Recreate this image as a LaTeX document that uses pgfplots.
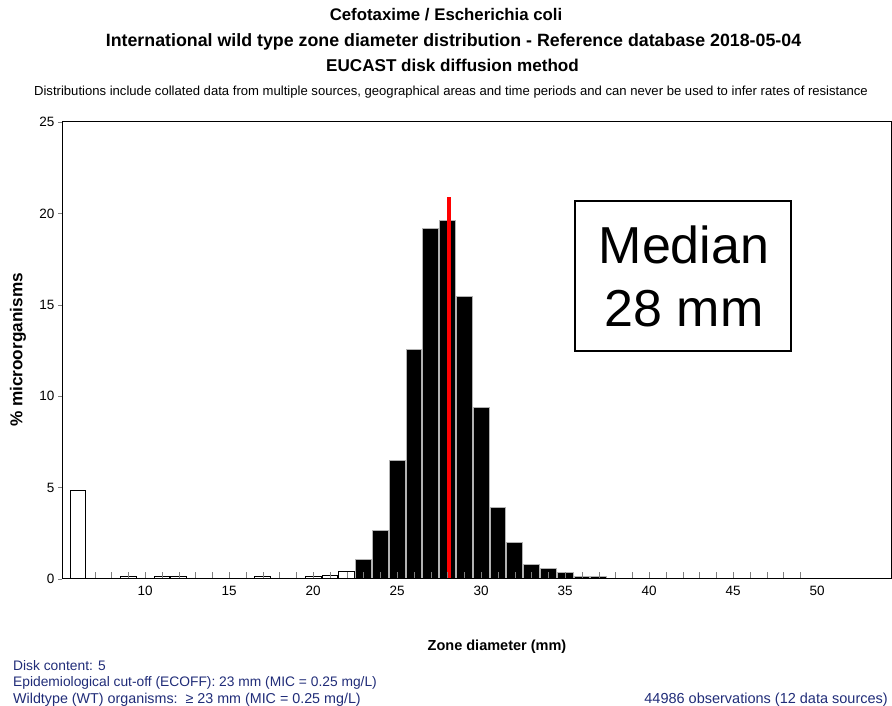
\documentclass[border=0pt]{standalone}
\usepackage{fontspec}
\setmainfont{Liberation Sans}
\usepackage{pgfplots}
\pgfplotsset{compat=1.18}
\definecolor{navy}{RGB}{32,44,120}
\begin{document}
\begin{tikzpicture}[x=1bp,y=1bp]
\path[use as bounding box] (0,0) rectangle (892,706);
\coordinate (SW) at (62,127);
\begin{axis}[at={(SW)}, anchor=south west, scale only axis, width=829bp, height=457bp,
 xmin=5.05, xmax=54.4, ymin=0, ymax=25,
 xtick={10,15,...,50}, ytick={0,5,...,25},
 xtick pos=bottom, ytick pos=left, tick align=outside, major tick length=4bp,
 xtick style={draw=none},
 axis line style={line width=1bp},
 tick label style={font=\fontsize{13.5bp}{16bp}\selectfont},
 /pgf/number format/assume math mode=true]
\addplot[ybar, bar width=15.8bp, bar shift=0pt, fill=white, draw=black, line width=0.8bp] coordinates {
(6,4.87) (9,0.14) (11,0.14) (12,0.14) (17,0.14) (20,0.14) (21,0.22) (22,0.4)};
\addplot[ybar, bar width=15.8bp, bar shift=0pt, fill=black, draw=gray!60, line width=0.7bp] coordinates {
(23,1.09) (24,2.66) (25,6.47) (26,12.57) (27,19.2) (28,19.6) (29,15.47) (30,9.4)
(31,3.9) (32,1.99) (33,0.82) (34,0.56) (35,0.36) (36,0.16) (37,0.16)};
\addplot[red, line width=3.5bp] coordinates {(28.1,0) (28.1,20.9)};
\draw[line width=1.2bp] (axis cs:35.59,12.47) rectangle (axis cs:48.44,20.68);
\end{axis}
\begin{axis}[at={(SW)}, anchor=south west, scale only axis, width=829bp, height=457bp,
 xmin=5.05, xmax=54.4, ymin=0, ymax=25,
 xtick={7,...,49}, xticklabels={}, ytick=\empty, xtick pos=bottom,
 tick align=inside, major tick length=6.5bp, axis line style={line width=1bp}]
\end{axis}
\node[anchor=base, font=\fontsize{52bp}{57bp}\selectfont] at (684,442) {Median};
\node[anchor=base, font=\fontsize{52bp}{57bp}\selectfont] at (684,379.3) {28 mm};
\node[anchor=base, font=\bfseries\fontsize{16.8bp}{20bp}\selectfont] at (446,685) {Cefotaxime / Escherichia coli};
\node[anchor=base, font=\bfseries\fontsize{17.8bp}{20bp}\selectfont] at (453.5,659) {International wild type zone diameter distribution - Reference database 2018-05-04};
\node[anchor=base, font=\bfseries\fontsize{17.1bp}{20bp}\selectfont] at (452.5,634) {EUCAST disk diffusion method};
\node[anchor=base, font=\fontsize{13.1bp}{15bp}\selectfont] at (451,610) {Distributions include collated data from multiple sources, geographical areas and time periods and can never be used to infer rates of resistance};
\node[anchor=base, font=\bfseries\fontsize{14.5bp}{17bp}\selectfont] at (497,55) {Zone diameter (mm)};
\node[rotate=90, font=\bfseries\fontsize{17.2bp}{20bp}\selectfont] at (18,356) {\% microorganisms};
\node[anchor=base west, inner sep=0pt, text=navy, font=\fontsize{13.8bp}{16bp}\selectfont] at (13,35.5) {Disk content: 5};
\node[anchor=base west, inner sep=0pt, text=navy, font=\fontsize{13.8bp}{16bp}\selectfont] at (13,19.3) {Epidemiological cut-off (ECOFF): 23 mm (MIC = 0.25 mg/L)};
\node[anchor=base west, inner sep=0pt, text=navy, font=\fontsize{14.3bp}{16bp}\selectfont] at (13,2.7) {Wildtype (WT) organisms:\ \ ≥ 23 mm (MIC = 0.25 mg/L)};
\node[anchor=base east, inner sep=0pt, text=navy, font=\fontsize{14.5bp}{16bp}\selectfont] at (888,2.7) {44986 observations (12 data sources)};
\end{tikzpicture}
\end{document}
